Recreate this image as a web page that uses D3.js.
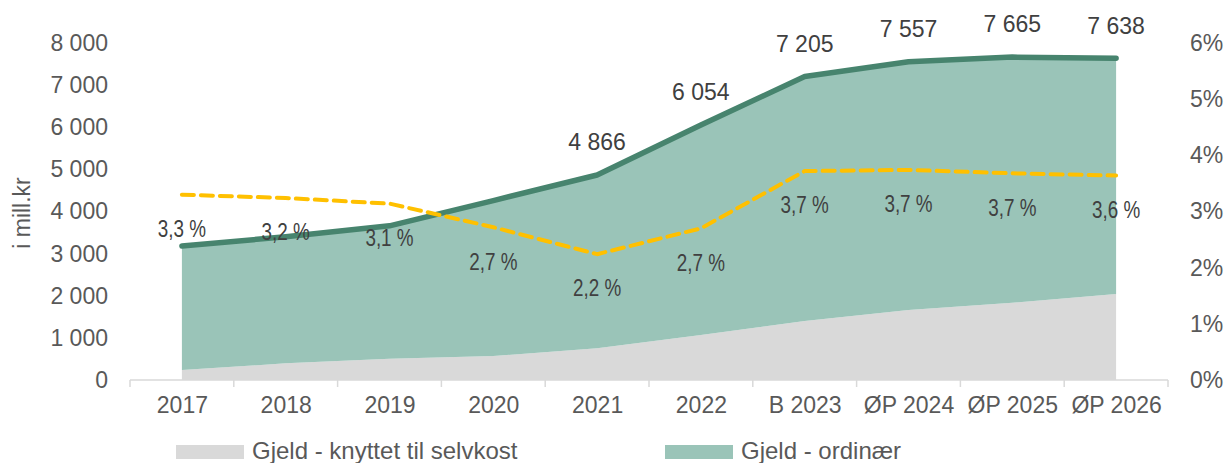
<!DOCTYPE html>
<html lang="no">
<head>
<meta charset="UTF-8">
<title>Gjeld</title>
<script src="https://d3js.org/d3.v7.min.js"></script>
<style>
  body { margin: 0; padding: 0; background: #fff; }
  svg { display: block; font-family: 'Liberation Sans', Arial, sans-serif; }
</style>
</head>
<body>
<div id="chart"></div>
<script>
// Data lest av figuren
const years = ['2017', '2018', '2019', '2020', '2021', '2022', 'B 2023', 'ØP 2024', 'ØP 2025', 'ØP 2026'];
const selvkost = [237, 395, 506, 570, 752, 1068, 1400, 1662, 1835, 2041];
const ordinaer = [2944, 3005, 3154, 3690, 4114, 4986, 5805, 5895, 5830, 5597];
const rente = [3.30, 3.24, 3.14, 2.72, 2.24, 2.70, 3.72, 3.74, 3.68, 3.64];
const leftTicks = [0, 1000, 2000, 3000, 4000, 5000, 6000, 7000, 8000];
const rightTicks = [0, 1, 2, 3, 4, 5, 6];
const seriesNames = ['Gjeld - knyttet til selvkost', 'Gjeld - ordinær'];
const firstTotalLabel = 4; // sumetiketter vises fra 2021

const width = 1226, height = 463;
const plotLeft = 130, plotRight = 1168, plotTop = 43, plotBottom = 380;

const locale = d3.formatLocale({ decimal: ',', thousands: '\u00a0', grouping: [3], currency: ['', ' kr'] });
const fmtThousand = locale.format(',.0f');
const fmtRate = locale.format('.1f');

const svg = d3.select('#chart').append('svg')
  .attr('width', width)
  .attr('height', height);

// Skalaer
const xBand = d3.scaleBand().domain(years).range([plotLeft, plotRight]);
const x = d3.scalePoint().domain(years).range([plotLeft, plotRight]).padding(0.5);
const y = d3.scaleLinear().domain([0, 8000]).range([plotBottom, plotTop]);
const yR = d3.scaleLinear().domain([0, 6]).range([plotBottom, plotTop]);

// Stablet data
const rows = years.map((yr, i) => ({ year: yr, selvkost: selvkost[i], ordinaer: ordinaer[i], rente: rente[i] }));
const stack = d3.stack().keys(['selvkost', 'ordinaer'])(rows);
const colors = ['#d9d9d9', '#9ac4b8'];

const area = d3.area()
  .x(d => x(d.data.year))
  .y0(d => y(d[0]))
  .y1(d => y(d[1]));

svg.append('g').selectAll('path')
  .data(stack)
  .join('path')
  .attr('d', area)
  .attr('fill', (d, i) => colors[i]);

// Aksen nederst
svg.append('line')
  .attr('x1', plotLeft).attr('x2', plotRight)
  .attr('y1', plotBottom).attr('y2', plotBottom)
  .attr('stroke', '#d9d9d9').attr('stroke-width', 1.5);

const boundaries = years.map(d => xBand(d)).concat([xBand.range()[1]]);
svg.append('g').selectAll('line')
  .data(boundaries)
  .join('line')
  .attr('x1', d => d).attr('x2', d => d)
  .attr('y1', plotBottom).attr('y2', plotBottom + 7)
  .attr('stroke', '#d9d9d9').attr('stroke-width', 1.5);

const xAxis = svg.append('g')
  .attr('transform', `translate(0,${plotBottom})`)
  .call(d3.axisBottom(x).tickSize(0).tickPadding(17));
xAxis.select('.domain').remove();
xAxis.selectAll('text')
  .attr('font-size', 23)
  .attr('font-family', "'Liberation Sans', Arial, sans-serif")
  .attr('fill', '#595959');

// Venstre akse
const yAxis = svg.append('g')
  .attr('transform', `translate(${plotLeft - 22},0)`)
  .call(d3.axisLeft(y).tickValues(leftTicks).tickSize(0).tickPadding(0).tickFormat(fmtThousand));
yAxis.select('.domain').remove();
yAxis.selectAll('text')
  .attr('font-size', 23)
  .attr('font-family', "'Liberation Sans', Arial, sans-serif")
  .attr('fill', '#595959');

// Høyre akse
const yAxisR = svg.append('g')
  .attr('transform', `translate(${plotRight + 22},0)`)
  .call(d3.axisRight(yR).tickValues(rightTicks).tickSize(0).tickPadding(0).tickFormat(d => d + '%'));
yAxisR.select('.domain').remove();
yAxisR.selectAll('text')
  .attr('font-size', 23)
  .attr('font-family', "'Liberation Sans', Arial, sans-serif")
  .attr('fill', '#595959');

// Aksetittel
svg.append('text')
  .attr('transform', `translate(30,213) rotate(-90)`)
  .attr('text-anchor', 'middle')
  .attr('font-size', 23)
  .attr('fill', '#595959')
  .text('i mill.kr');

// Sumlinje
const totalLine = d3.line()
  .x(d => x(d.data.year))
  .y(d => y(d[1]));

svg.append('path')
  .datum(stack[1])
  .attr('d', totalLine)
  .attr('fill', 'none')
  .attr('stroke', '#47846e')
  .attr('stroke-width', 5.5)
  .attr('stroke-linejoin', 'round')
  .attr('stroke-linecap', 'round');

// Rentelinje
const rateLine = d3.line()
  .x(d => x(d.year))
  .y(d => yR(d.rente));

svg.append('path')
  .datum(rows)
  .attr('d', rateLine)
  .attr('fill', 'none')
  .attr('stroke', '#ffc000')
  .attr('stroke-width', 4)
  .attr('stroke-dasharray', '12 7')
  .attr('stroke-linejoin', 'round')
  .attr('stroke-linecap', 'round');

// Sumetiketter
svg.append('g').selectAll('text')
  .data(stack[1].filter((d, i) => i >= firstTotalLabel))
  .join('text')
  .attr('x', d => x(d.data.year))
  .attr('y', d => y(d[1]) - 33)
  .attr('dy', '0.36em')
  .attr('text-anchor', 'middle')
  .attr('font-size', 23)
  .attr('fill', '#404040')
  .text(d => fmtThousand(d[1]));

// Renteetiketter (smal skrift)
svg.append('g').selectAll('text')
  .data(rows)
  .join('text')
  .attr('transform', d => `translate(${x(d.year)},${yR(d.rente) + 34}) scale(0.82,1)`)
  .attr('dy', '0.36em')
  .attr('text-anchor', 'middle')
  .attr('font-size', 23)
  .attr('fill', '#404040')
  .text(d => fmtRate(d.rente) + ' %');

// Tegnforklaring
const legend = svg.append('g').attr('transform', `translate(176,445)`);
const legendX = [0, 489];
seriesNames.forEach((name, i) => {
  const g = legend.append('g').attr('transform', `translate(${legendX[i]},0)`);
  g.append('rect')
    .attr('width', 68).attr('height', 14)
    .attr('fill', colors[i]);
  g.append('text')
    .attr('x', 76).attr('y', 14)
    .attr('font-size', 24)
    .attr('fill', '#595959')
    .text(name);
});
</script>
</body>
</html>
